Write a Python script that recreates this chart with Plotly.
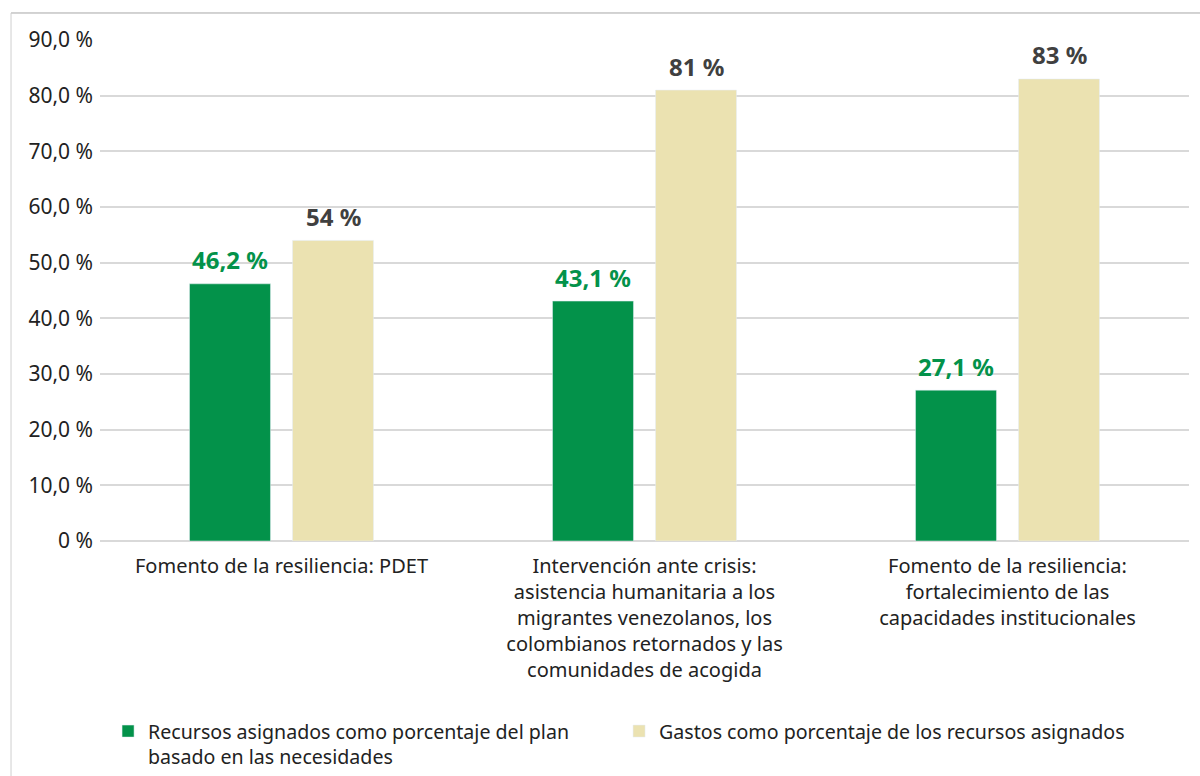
import plotly.graph_objects as go

categories = [
    "Fomento de la resiliencia: PDET",
    "Intervención ante crisis:<br>asistencia humanitaria a los<br>migrantes venezolanos, los<br>colombianos retornados y las<br>comunidades de acogida",
    "Fomento de la resiliencia:<br>fortalecimiento de las<br>capacidades institucionales",
]
asignados = [46.2, 43.1, 27.1]
asignados_labels = ["46,2 %", "43,1 %", "27,1 %"]
gastos = [54, 81, 83]
gastos_labels = ["54 %", "81 %", "83 %"]
tick_vals = [0, 10, 20, 30, 40, 50, 60, 70, 80, 90]
tick_text = ["0 %", "10,0 %", "20,0 %", "30,0 %", "40,0 %", "50,0 %", "60,0 %", "70,0 %", "80,0 %", "90,0 %"]

name1 = "Recursos asignados como porcentaje del plan<br>basado en las necesidades"
name2 = "Gastos como porcentaje de los recursos asignados"

GREEN = "#03924A"
BEIGE = "#EBE2B1"
FONT = "Noto Sans"

W, H = 1200, 776
ML, MR, MT, MB = 100, 11, 40, 235
BARGAP = 0.4325
BARGROUPGAP = 0.214

fig = go.Figure()
fig.add_trace(go.Bar(x=categories, y=asignados, name=name1, marker_color=GREEN))
fig.add_trace(go.Bar(x=categories, y=gastos, name=name2, marker_color=BEIGE))

# value labels placed over each bar, shifted to the bar's group slot
plot_w = W - ML - MR
cat_px = plot_w / len(categories)
slot_px = cat_px * (1 - BARGAP) / 2
annotations = []
for vals, labels, color, sign in [(asignados, asignados_labels, GREEN, -1),
                                  (gastos, gastos_labels, "#404040", 1)]:
    for c, v, t in zip(categories, vals, labels):
        annotations.append(dict(
            x=c, y=v, xref="x", yref="y", text=t, showarrow=False,
            xshift=sign * slot_px / 2, yshift=24, yanchor="middle",
            font=dict(family=FONT, size=24, color=color, weight="bold"),
        ))

fig.update_layout(
    width=W, height=H,
    margin=dict(l=ML, r=MR, t=MT, b=MB, autoexpand=False),
    paper_bgcolor="white", plot_bgcolor="white",
    font=dict(family=FONT, size=19, color="#222222"),
    barmode="group", bargap=BARGAP, bargroupgap=BARGROUPGAP,
    showlegend=True,
    legend=dict(
        orientation="h", x=0.0074, xanchor="left", y=-0.341, yanchor="top",
        font=dict(family=FONT, size=19.6, color="#222222"),
        entrywidth=466, entrywidthmode="pixels", valign="top",
        itemwidth=30, traceorder="normal",
    ),
    xaxis=dict(showline=False, ticks="", ticklabelstandoff=11,
               tickfont=dict(size=20, color="#222222")),
    yaxis=dict(
        range=[0, 90], tickvals=tick_vals, ticktext=tick_text,
        showgrid=True, gridcolor="#D9D9D9", gridwidth=1.5,
        zeroline=True, zerolinecolor="#D9D9D9", zerolinewidth=1.5,
        tickfont=dict(size=21, color="#222222"), ticks="", ticklabelstandoff=6,
    ),
    annotations=annotations,
    shapes=[
        dict(type="line", xref="paper", yref="paper", x0=-0.0817, x1=1.02, y0=1.0539, y1=1.0539,
             line=dict(color="#A6A6A6", width=1)),
        dict(type="line", xref="paper", yref="paper", x0=-0.0817, x1=-0.0817, y0=1.0539, y1=-0.48,
             line=dict(color="#CFCFCF", width=1)),
    ],
)

fig.write_html("out.html")
